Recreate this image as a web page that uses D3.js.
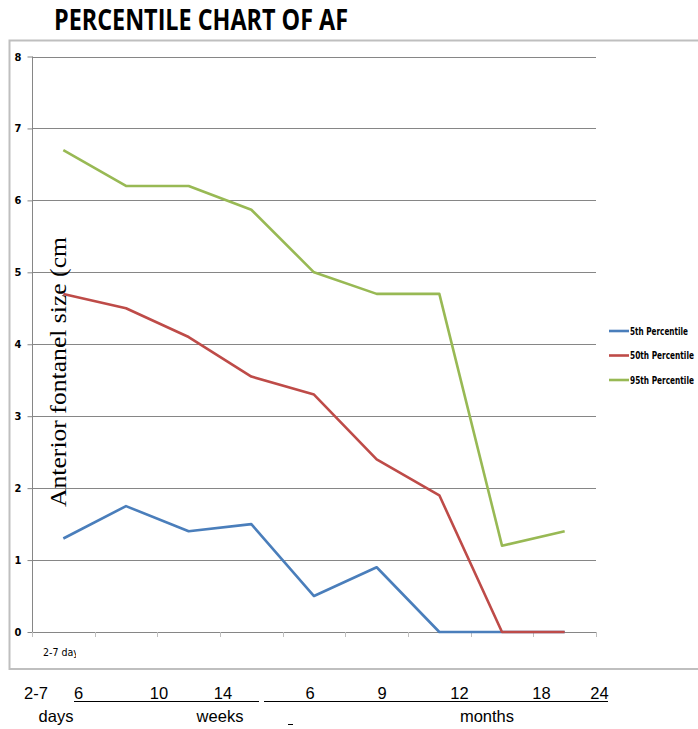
<!DOCTYPE html>
<html>
<head>
<meta charset="utf-8">
<script src="https://cdn.jsdelivr.net/npm/d3@7"></script>
<style>
  html, body { margin: 0; padding: 0; background: #fff; }
  svg { display: block; }
</style>
</head>
<body>
<svg id="chart" width="698" height="729"></svg>
<script>
// Age groups along the x axis
const categories = ["2-7 days", "6 weeks", "10 weeks", "14 weeks", "6 months", "9 months", "12 months", "18 months", "24 months"];

// Anterior fontanel size (cm) per percentile
const p5  = [1.3, 1.75, 1.4, 1.5, 0.5, 0.9, 0, 0, 0];
const p50 = [4.7, 4.5, 4.1, 3.55, 3.3, 2.4, 1.9, 0, 0];
const p95 = [6.7, 6.2, 6.2, 5.87, 5.0, 4.7, 4.7, 1.2, 1.4];

const seriesNames  = ["5th Percentile", "50th Percentile", "95th Percentile"];
const seriesColors = ["#4A7EBB", "#BE4B48", "#98B954"];
const yTicks = [0, 1, 2, 3, 4, 5, 6, 7, 8];

// Hand-written age labels under the chart
const ageNumbers = [
  { t: "2-7", x: 36 }, { t: "6", x: 78.5 }, { t: "10", x: 159 }, { t: "14", x: 223 },
  { t: "6", x: 310 }, { t: "9", x: 382 }, { t: "12", x: 459.5 }, { t: "18", x: 541.5 }, { t: "24", x: 599.5 }
];
const ageUnits = [{ t: "days", x: 56 }, { t: "weeks", x: 220 }, { t: "months", x: 487 }];

const condFont = "'DejaVu Sans Condensed', 'Liberation Sans', sans-serif";
const svg = d3.select("#chart");

// Squeeze a text element horizontally so it spans `width` pixels from (x, y)
function fitWidth(sel, x, y, width) {
  sel.each(function () {
    const w = this.getComputedTextLength();
    const sx = w > 0 ? width / w : 1;
    d3.select(this).attr("transform", `translate(${x},${y}) scale(${sx},1)`);
  });
}

// Title
svg.append("text")
  .attr("x", 54).attr("y", 30)
  .attr("font-family", "'Open Sans', 'DejaVu Sans', sans-serif")
  .attr("font-weight", "bold")
  .attr("font-size", 29)
  .attr("textLength", 294)
  .attr("lengthAdjust", "spacingAndGlyphs")
  .attr("fill", "#000")
  .text("PERCENTILE CHART OF AF");

// Chart frame
svg.append("path")
  .attr("d", "M 720 40.5 H 9.5 V 669 H 720")
  .attr("fill", "none")
  .attr("stroke", "#BFBFBF")
  .attr("stroke-width", 2);

const plot = { left: 32, right: 596, top: 56.5, bottom: 632 };

const x = d3.scaleBand().domain(categories).range([plot.left, plot.right]);
const y = d3.scaleLinear().domain([0, 8]).range([plot.bottom, plot.top]);

// Horizontal gridlines
svg.append("g")
  .selectAll("line")
  .data(yTicks.filter(d => d > 0))
  .join("line")
  .attr("x1", plot.left).attr("x2", plot.right)
  .attr("y1", d => Math.round(y(d)) + 0.5).attr("y2", d => Math.round(y(d)) + 0.5)
  .attr("stroke", "#868686")
  .attr("stroke-width", 1);

// Y axis
const yAxis = svg.append("g")
  .attr("transform", `translate(${plot.left + 0.5},0)`)
  .call(d3.axisLeft(y).tickValues(yTicks).tickSize(5).tickPadding(6).tickFormat(d3.format("d")));
yAxis.select(".domain").attr("stroke", "#868686").attr("d", `M0,${plot.top}V${plot.bottom}`);
yAxis.selectAll(".tick line").attr("stroke", "#868686");
yAxis.selectAll(".tick text")
  .attr("font-family", condFont)
  .attr("font-weight", "bold")
  .attr("font-size", 11)
  .attr("fill", "#000");

// X axis: tick marks between categories
const xBoundaries = categories.map(c => x(c)).concat([plot.right]);
svg.append("line")
  .attr("x1", plot.left).attr("x2", plot.right)
  .attr("y1", plot.bottom + 0.5).attr("y2", plot.bottom + 0.5)
  .attr("stroke", "#868686");
svg.append("g")
  .selectAll("line")
  .data(xBoundaries)
  .join("line")
  .attr("x1", d => Math.round(d) + 0.5).attr("x2", d => Math.round(d) + 0.5)
  .attr("y1", plot.bottom).attr("y2", plot.bottom + 5)
  .attr("stroke", "#BFBFBF");

// First category label, cut off at the next tick
svg.append("clipPath").attr("id", "firstLabelClip")
  .append("rect").attr("x", 30).attr("y", 640).attr("width", 46).attr("height", 25);
svg.append("g")
  .attr("clip-path", "url(#firstLabelClip)")
  .append("text")
  .attr("font-family", condFont)
  .attr("font-size", 11)
  .attr("fill", "#000")
  .text(categories[0])
  .call(fitWidth, 43, 656, 41);

// Y axis title
svg.append("text")
  .attr("transform", "translate(66,372) rotate(-90)")
  .attr("text-anchor", "middle")
  .attr("font-family", "'Liberation Serif', 'DejaVu Serif', serif")
  .attr("font-size", 24)
  .attr("textLength", 270)
  .attr("lengthAdjust", "spacingAndGlyphs")
  .attr("fill", "#000")
  .text("Anterior fontanel size (cm");

// Percentile lines
const allSeries = [p5, p50, p95];
const line = d3.line()
  .x((d, i) => x(categories[i]) + x.bandwidth() / 2)
  .y(d => y(d));
svg.append("g")
  .selectAll("path")
  .data(allSeries)
  .join("path")
  .attr("d", d => line(d))
  .attr("fill", "none")
  .attr("stroke", (d, i) => seriesColors[i])
  .attr("stroke-width", 2.6)
  .attr("stroke-linejoin", "round");

// Legend
const legend = svg.append("g")
  .selectAll("g")
  .data(seriesNames)
  .join("g")
  .attr("transform", (d, i) => `translate(609,${331 + i * 24.5})`);
legend.append("line")
  .attr("x1", 0).attr("x2", 20)
  .attr("stroke", (d, i) => seriesColors[i])
  .attr("stroke-width", 2.6);
legend.append("text")
  .attr("font-family", condFont)
  .attr("font-weight", "bold")
  .attr("font-size", 10)
  .attr("fill", "#000")
  .text(d => d)
  .each(function (d, i) {
    d3.select(this).call(fitWidth, 21, 3.5, i === 0 ? 58 : 64);
  });

// Age numbers and units below the frame
const below = svg.append("g")
  .attr("font-family", "'Liberation Sans', Arial, sans-serif")
  .attr("font-size", 16.5)
  .attr("fill", "#000")
  .attr("text-anchor", "middle");
below.selectAll("text.num")
  .data(ageNumbers)
  .join("text")
  .attr("class", "num")
  .attr("x", d => d.x).attr("y", 699)
  .text(d => d.t);
below.selectAll("text.unit")
  .data(ageUnits)
  .join("text")
  .attr("class", "unit")
  .attr("x", d => d.x).attr("y", 722)
  .text(d => d.t);

// Underlines grouping the weeks and the months
svg.append("g")
  .selectAll("line")
  .data([[74, 259], [264, 608]])
  .join("line")
  .attr("x1", d => d[0]).attr("x2", d => d[1])
  .attr("y1", 701.5).attr("y2", 701.5)
  .attr("stroke", "#000")
  .attr("stroke-width", 1.2);
svg.append("line")
  .attr("x1", 288).attr("x2", 293)
  .attr("y1", 724.5).attr("y2", 724.5)
  .attr("stroke", "#000")
  .attr("stroke-width", 1);
</script>
</body>
</html>
